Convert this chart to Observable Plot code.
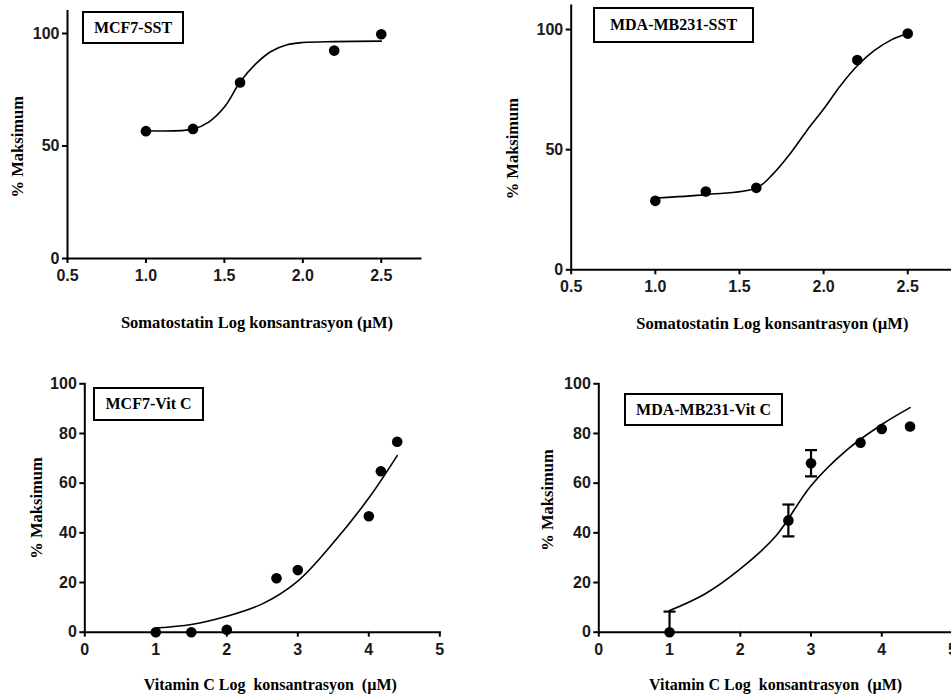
<!DOCTYPE html>
<html><head><meta charset="utf-8">
<script src="https://cdn.jsdelivr.net/npm/d3@7"></script>
<script src="https://cdn.jsdelivr.net/npm/@observablehq/plot@0.6"></script>
<style>
body{margin:0;background:#fff;}
#wrap{position:relative;width:951px;height:697px;overflow:hidden;background:#fff;}
.panel{position:absolute;overflow:visible;}
.tag{position:absolute;border:2px solid #000;background:#fff;font-weight:bold;font-size:16px;font-family:"Liberation Serif","Times New Roman",serif;display:flex;align-items:center;justify-content:center;box-sizing:border-box;color:#000;}
</style></head><body><div id="wrap"></div>
<script>
// ---- Data ----
const sstTicks = [0.5, 1.0, 1.5, 2.0, 2.5];
const sstYTicks = [0, 50, 100];
const vitTicks = [0, 1, 2, 3, 4, 5];
const vitYTicks = [0, 20, 40, 60, 80, 100];

const sstX = [1.0, 1.3, 1.6, 2.2, 2.5];
const mcf7SstY = [56.6, 57.6, 78.2, 92.4, 99.7];
const mcf7SstFitX = [1.0, 1.3, 1.4, 1.5, 1.6, 1.7, 1.8, 1.9, 2.0, 2.2, 2.5];
const mcf7SstFitY = [56.8, 57.5, 60.6, 67.3, 78.4, 86.5, 92.1, 95.0, 96.0, 96.4, 96.6];

const mdaSstY = [28.7, 32.6, 34.1, 87.3, 98.3];
const mdaSstFitX = [1.0, 1.3, 1.6, 1.7, 1.8, 1.9, 2.0, 2.1, 2.2, 2.3, 2.4, 2.5];
const mdaSstFitY = [29.9, 31.3, 34.0, 39.9, 48.2, 57.9, 66.9, 76.6, 84.9, 91.2, 95.6, 98.3];

const mcf7VitX = [1, 1.5, 2, 2.7, 3, 4, 4.17, 4.4];
const mcf7VitY = [0, 0, 1, 21.7, 25, 46.7, 64.8, 76.7];
const mcf7VitFitX = [1, 1.5, 2, 2.5, 3, 3.5, 4, 4.4];
const mcf7VitFitY = [1.7, 3.1, 6.4, 11.4, 20.6, 36.0, 54.0, 71.1];

const mdaVitX = [1, 2.68, 3, 3.7, 4, 4.4];
const mdaVitY = [0, 45, 68, 76.3, 81.8, 82.8];
const mdaVitErr = [8.3, 6.4, 5.3, 0, 0, 0];
const mdaVitFitX = [1, 1.5, 2, 2.5, 3, 3.5, 4, 4.4];
const mdaVitFitY = [8.7, 15.4, 25.5, 38.6, 59.0, 73.2, 83.6, 90.4];

const yLabel = "% Maksimum";
const sstXLabel = "Somatostatin Log konsantrasyon (\u00b5M)";
const vitXLabel = "Vitamin C Log  konsantrasyon  (\u00b5M)";

// ---- helpers ----
const SERIF = "Liberation Serif, Times New Roman, serif";
const SANS = "Liberation Sans, Arial, sans-serif";
const zip = (xs, ys, extra) => xs.map((x, i) => ({x, y: ys[i], err: extra ? extra[i] : 0}));
const capSymbol = {draw(ctx, size) { const r = Math.sqrt(size / Math.PI); ctx.moveTo(-r, 0); ctx.lineTo(r, 0); }};

function panel(o) {
  const marks = [
    Plot.axisX(o.xTicks, {tickSize: 5, tickPadding: 6, strokeWidth: 2, tickFormat: o.xFormat, label: null, fill: "#1a1a1a", fontFamily: SANS, fontSize: 16, fontWeight: "bold"}),
    Plot.axisY(o.yTicks, {tickSize: 5, tickPadding: 3, strokeWidth: 2, label: null, fill: "#1a1a1a", fontFamily: SANS, fontSize: 16, fontWeight: "bold"}),
    Plot.frame({anchor: "left", strokeWidth: 2}),
    Plot.frame({anchor: "bottom", strokeWidth: 2}),
    Plot.line(o.fit, {x: "x", y: "y", curve: "catmull-rom", stroke: "#000", strokeWidth: 1.6}),
  ];
  if (o.errors) {
    const e = o.errors.filter(d => d.err > 0);
    marks.push(Plot.ruleX(e, {x: "x", y1: d => d.y - d.err, y2: d => d.y + d.err, stroke: "#000", strokeWidth: 2.2, clip: true}));
    marks.push(Plot.dot(e, {x: "x", y: d => d.y + d.err, symbol: capSymbol, r: 6, stroke: "#000", strokeWidth: 2.2}));
    marks.push(Plot.dot(e, {x: "x", y: d => d.y - d.err, symbol: capSymbol, r: 6, stroke: "#000", strokeWidth: 2.2, clip: true}));
  }
  marks.push(Plot.dot(o.points, {x: "x", y: "y", r: 5.3, fill: "#000", stroke: "none"}));
  marks.push(Plot.text([o.xLabel], {text: d => d, frameAnchor: "bottom", textAnchor: "middle", dx: o.xdx, dy: o.xdy, lineAnchor: "middle", fontFamily: SERIF, fontWeight: "bold", fontSize: o.xfs, fill: "#000"}));
  marks.push(Plot.text([yLabel], {text: d => d, frameAnchor: "left", textAnchor: "middle", rotate: -90, dx: o.ydx, dy: o.ydy, lineAnchor: "middle", fontFamily: SERIF, fontWeight: "bold", fontSize: 16.5, fill: "#000"}));
  const svg = Plot.plot({
    width: o.width, height: o.height,
    marginLeft: o.ml, marginRight: o.mr, marginTop: o.mt, marginBottom: o.mb,
    x: {domain: o.xDomain},
    y: {domain: o.yDomain},
    style: {background: "transparent", overflow: "visible"},
    marks
  });
  svg.classList.add("panel");
  svg.style.left = o.left + "px";
  svg.style.top = o.top + "px";
  document.getElementById("wrap").appendChild(svg);
  const tag = document.createElement("div");
  tag.className = "tag";
  tag.textContent = o.tag;
  Object.assign(tag.style, {left: o.tagBox[0] + "px", top: o.tagBox[1] + "px", width: o.tagBox[2] + "px", height: o.tagBox[3] + "px"});
  document.getElementById("wrap").appendChild(tag);
}

const fmt1 = d3.format(".1f");

panel({left: 0, top: 0, width: 475, height: 345, ml: 67, mr: 55, mt: 10.5, mb: 87,
  xDomain: [0.5, 2.75], yDomain: [0, 110], xTicks: sstTicks, yTicks: sstYTicks, xFormat: fmt1,
  points: zip(sstX, mcf7SstY), fit: zip(mcf7SstFitX, mcf7SstFitY),
  xLabel: sstXLabel, xfs: 16.5, xdx: 13, xdy: 64, ydx: -50, ydy: 12,
  tag: "MCF7-SST", tagBox: [82, 11, 102, 33]});

panel({left: 475, top: 0, width: 476, height: 345, ml: 95.7, mr: 0, mt: 5, mb: 75.7,
  xDomain: [0.5, 2.76], yDomain: [0, 110], xTicks: sstTicks, yTicks: sstYTicks, xFormat: fmt1,
  points: zip(sstX, mdaSstY), fit: zip(mdaSstFitX, mdaSstFitY),
  xLabel: sstXLabel, xfs: 16.5, xdx: 11, xdy: 54, ydx: -58, ydy: 11,
  tag: "MDA-MB231-SST", tagBox: [593, 7, 161, 36]});

panel({left: 0, top: 345, width: 475, height: 352, ml: 84.3, mr: 35.7, mt: 38.3, mb: 65.3,
  xDomain: [0, 5], yDomain: [0, 100], xTicks: vitTicks, yTicks: vitYTicks, xFormat: d3.format("d"),
  points: zip(mcf7VitX, mcf7VitY), fit: zip(mcf7VitFitX, mcf7VitFitY),
  xLabel: vitXLabel, xfs: 16, xdx: 8, xdy: 53, ydx: -48, ydy: 0,
  tag: "MCF7-Vit C", tagBox: [93, 387, 111, 34]});

panel({left: 475, top: 345, width: 477, height: 352, ml: 123.3, mr: 0, mt: 38.3, mb: 65.3,
  xDomain: [0, 5], yDomain: [0, 100], xTicks: vitTicks, yTicks: vitYTicks, xFormat: d3.format("d"),
  points: zip(mdaVitX, mdaVitY), fit: zip(mdaVitFitX, mdaVitFitY), errors: zip(mdaVitX, mdaVitY, mdaVitErr),
  xLabel: vitXLabel, xfs: 16, xdx: 0, xdy: 53, ydx: -51, ydy: -8,
  tag: "MDA-MB231-Vit C", tagBox: [624, 393, 159, 33]});
</script>
</body></html>
